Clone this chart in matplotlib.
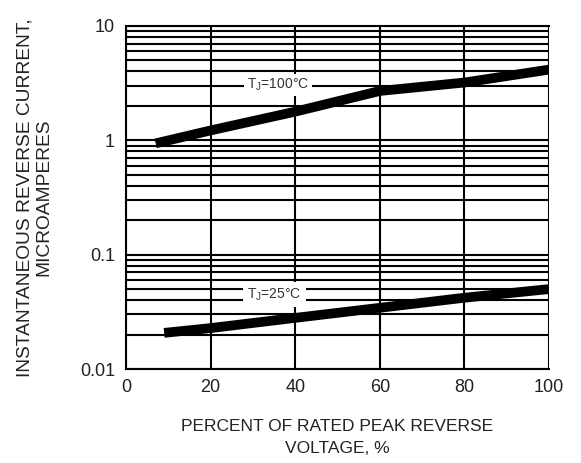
import matplotlib
matplotlib.use("Agg")
import matplotlib.pyplot as plt
from matplotlib.ticker import LogLocator, NullFormatter

plt.rcParams['font.family'] = ['Liberation Sans', 'DejaVu Sans']

# Data
x_100 = [7, 20, 40, 60, 80, 100]
i_100 = [0.94, 1.22, 1.78, 2.7, 3.2, 4.15]
x_25 = [9, 20, 40, 60, 80, 100]
i_25 = [0.0207, 0.0228, 0.028, 0.0343, 0.042, 0.05]

x_ticks = [0, 20, 40, 60, 80, 100]
y_ticks = [0.01, 0.1, 1, 10]
y_ticklabels = ["0.01", "0.1", "1", "10"]
label_100 = "T$_\\mathregular{J}$=100°C"
label_25 = "T$_\\mathregular{J}$=25°C"

fig = plt.figure(figsize=(5.81, 4.63), dpi=100)
ax = fig.add_axes([0.217, 0.203, 0.728, 0.741])
ax.set_yscale('log')
ax.set_xlim(0, 100)
ax.set_ylim(0.01, 10)

ax.set_xticks(x_ticks)
ax.set_yticks(y_ticks)
ax.set_yticklabels(y_ticklabels)
ax.yaxis.set_minor_locator(LogLocator(base=10, subs=range(2, 10)))
ax.yaxis.set_minor_formatter(NullFormatter())
ax.tick_params(which='both', length=0, labelsize=13, colors='#222222')
ax.tick_params(axis='y', pad=8)
ax.tick_params(axis='x', pad=7)

ax.grid(True, which='both', axis='y', color='black', linewidth=1.5)
ax.grid(True, which='major', axis='x', color='black', linewidth=1.5)
ax.set_axisbelow(True)
for s in ['left', 'bottom', 'top']:
    ax.spines[s].set_linewidth(1.5)
ax.spines['right'].set_visible(False)

ax.plot(x_100, i_100, color='black', linewidth=7, solid_capstyle='butt')
ax.plot(x_25, i_25, color='black', linewidth=7, solid_capstyle='butt')

ax.text(36, 3.05, label_100, fontsize=10, color='#333333', ha='center', va='center',
        bbox=dict(facecolor='white', edgecolor='none', pad=2), zorder=5)
ax.text(35, 0.045, label_25, fontsize=10, color='#333333', ha='center', va='center',
        bbox=dict(facecolor='white', edgecolor='none', pad=3), zorder=5)

ax.set_xlabel("PERCENT OF RATED PEAK REVERSE\nVOLTAGE, %", fontsize=12.5,
              color='#222222', labelpad=17, linespacing=1.55)
ax.set_ylabel("INSTANTANEOUS REVERSE CURRENT,\nMICROAMPERES", fontsize=13.8,
              color='#222222', labelpad=20, linespacing=1.1)

fig.savefig("out.png", dpi=100, facecolor='white')
